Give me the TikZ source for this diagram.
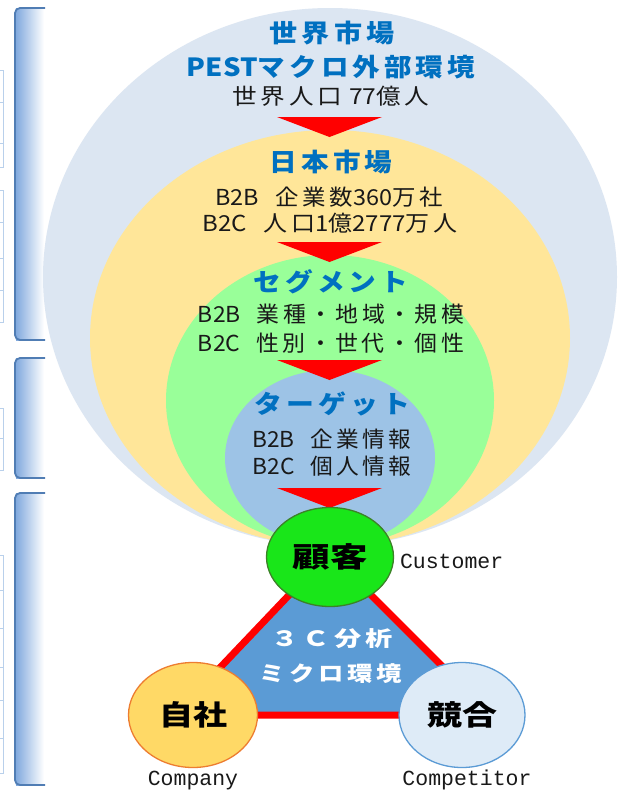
\documentclass[tikz,border=0pt]{standalone}
\usepackage{fontspec}
\usepackage{graphicx}
\usetikzlibrary{shapes.geometric}
\setmainfont{Noto Sans CJK JP}
\newfontfamily\monof{Liberation Mono}
\definecolor{outerC}{RGB}{220,230,242}
\definecolor{yellowC}{RGB}{255,230,153}
\definecolor{greenC}{RGB}{153,255,153}
\definecolor{targetC}{RGB}{157,195,230}
\definecolor{headC}{RGB}{0,112,192}
\definecolor{bodyC}{RGB}{25,25,25}
\definecolor{custC}{RGB}{25,230,25}
\definecolor{custE}{RGB}{60,130,40}
\definecolor{compC}{RGB}{255,217,102}
\definecolor{compE}{RGB}{237,125,49}
\definecolor{rivC}{RGB}{222,235,247}
\definecolor{rivE}{RGB}{91,155,213}
\definecolor{triC}{RGB}{91,155,213}
\definecolor{brkE}{RGB}{80,125,180}
\definecolor{brkF}{RGB}{130,170,222}
\definecolor{gridC}{RGB}{185,208,235}
\definecolor{arrowC}{RGB}{255,0,0}
\newcommand\fitw[2]{\resizebox{#1pt}{\height}{#2}}
\newcommand\lt[1]{{\addfontfeature{LetterSpace=0}#1}}
\begin{document}
\begin{tikzpicture}[x=1pt,y=-1pt,
  lbl/.style={inner sep=0pt,outer sep=0pt},
  head/.style={lbl,text=headC,text height=20.75pt,text depth=1.75pt,font=\fontsize{25}{25}\selectfont\bfseries\addfontfeature{LetterSpace=15}},
  body/.style={lbl,text=bodyC,text height=18.26pt,text depth=1.54pt,font=\fontsize{22}{22}\selectfont\addfontfeature{LetterSpace=15}},
  tri/.style={lbl,text=white,text height=17.43pt,text depth=1.47pt,font=\fontsize{21}{21}\selectfont\bfseries\addfontfeature{LetterSpace=15}},
  big/.style={lbl,text=black,text height=23.24pt,text depth=1.96pt,font=\fontsize{28}{28}\selectfont\bfseries},
  zone/.style={ellipse,inner sep=0pt,outer sep=0pt},
  party/.style={ellipse,inner sep=0pt,outer sep=0pt,line width=1.3pt},
  mono/.style={inner sep=0pt,outer sep=0pt,text=bodyC,font=\monof\fontsize{21.5}{21.5}\selectfont},
  arrowtri/.style={fill=arrowC},
  brk/.style={draw=brkE,line width=1.8pt,rounded corners=5pt},
  grid/.style={draw=gridC,line width=0.8pt}
]
\useasboundingbox (0,0) rectangle (618,790);
\fill[white] (0,0) rectangle (618,790);

% left brackets
\foreach \a/\b in {8/340, 358/478, 493/785}{
  \shade[left color=brkF,right color=white] (16,\a) rectangle (44,\b);
  \draw[brk] (45,\a) -- (15,\a) -- (15,\b) -- (45,\b);
}
% faint cell edges at far left
\foreach \a/\b/\ticks in {70/167/{70,102,143,167}, 190/322/{190,222,258,290,322}, 408/470/{408,438,470}, 555/773/{555,590,628,667,700,738,773}}{
  \draw[grid] (3.5,\a) -- (3.5,\b);
  \foreach \t in \ticks { \draw[grid] (0,\t) -- (3.5,\t); }
}

% nested market ellipses
\node[zone,fill=outerC,minimum width=574pt,minimum height=538pt] (world) at (330,277) {};
\node[zone,fill=yellowC,minimum width=480pt,minimum height=416pt] (japan) at (330,338) {};
\node[zone,fill=greenC,minimum width=328pt,minimum height=291pt] (segm) at (330,400.5) {};
\node[zone,fill=targetC,minimum width=210pt,minimum height=176pt] (targ) at (330,458) {};

% red down arrows
\foreach \t in {117,242,360,488}{
  \fill[arrowtri] (277,\t) -- (382,\t) -- (329.5,\t+20) -- cycle;
}

% 3C triangle
\coordinate (tA) at (329,553);
\coordinate (tB) at (175,715);
\coordinate (tC) at (491,715);
\filldraw[fill=triC,draw=arrowC,line width=7pt,line join=round] (tA) -- (tB) -- (tC) -- cycle;

% texts in the market ellipses
\node[head] (t1) at (332,33) {\fitw{125}{世界市場}};
\node[head] (t2) at (331,67) {\fitw{288}{\lt{PEST}マクロ外部環境}};
\node[body] (t3) at (331,96) {\fitw{197}{世界人口\hspace{0.3em}\lt{77}億人}};
\node[head] (t4) at (331,162) {\fitw{123}{日本市場}};
\node[body] (t5) at (329,197) {\fitw{227}{\lt{B2B}\hspace{0.7em}企業数\lt{360}万社}};
\node[body] (t6) at (330,223) {\fitw{255}{\lt{B2C}\hspace{0.7em}人口\lt{1}億\lt{2777}万人}};
\node[head] (t7) at (331,282) {\fitw{155}{セグメント}};
\node[body] (t8) at (331,314) {\fitw{266}{\lt{B2B}\hspace{0.7em}業種・地域・規模}};
\node[body] (t9) at (331,343) {\fitw{266}{\lt{B2C}\hspace{0.7em}性別・世代・個性}};
\node[head] (t10) at (332,404) {\fitw{156}{ターゲット}};
\node[body] (t11) at (332,439) {\fitw{159}{\lt{B2B}\hspace{0.7em}企業情報}};
\node[body] (t12) at (332,466) {\fitw{159}{\lt{B2C}\hspace{0.7em}個人情報}};

% triangle texts
\node[tri] (c1) at (332,639) {\fitw{121}{３Ｃ分析}};
\node[tri] (c2) at (331,674) {\fitw{142}{ミクロ環境}};

% three parties
\node[party,fill=custC,draw=custE,minimum width=127pt,minimum height=99pt] (cust) at (330,557) {};
\node[big] (custT) at (cust.center) {\fitw{75}{顧客}};
\node[party,fill=compC,draw=compE,minimum width=129pt,minimum height=105pt] (comp) at (193,715) {};
\node[big] (compT) at (comp.center) {\fitw{68}{自社}};
\node[party,fill=rivC,draw=rivE,minimum width=126pt,minimum height=105pt] (riv) at (462,715) {};
\node[big] (rivT) at (riv.center) {\fitw{70}{競合}};

% english labels
\node[mono,anchor=base west] (custL) at (400,568) {Customer};
\node[mono,anchor=base] (compL) at (193,785) {Company};
\node[mono,anchor=base] (rivL) at (467,785) {Competitor};
\end{tikzpicture}
\end{document}
